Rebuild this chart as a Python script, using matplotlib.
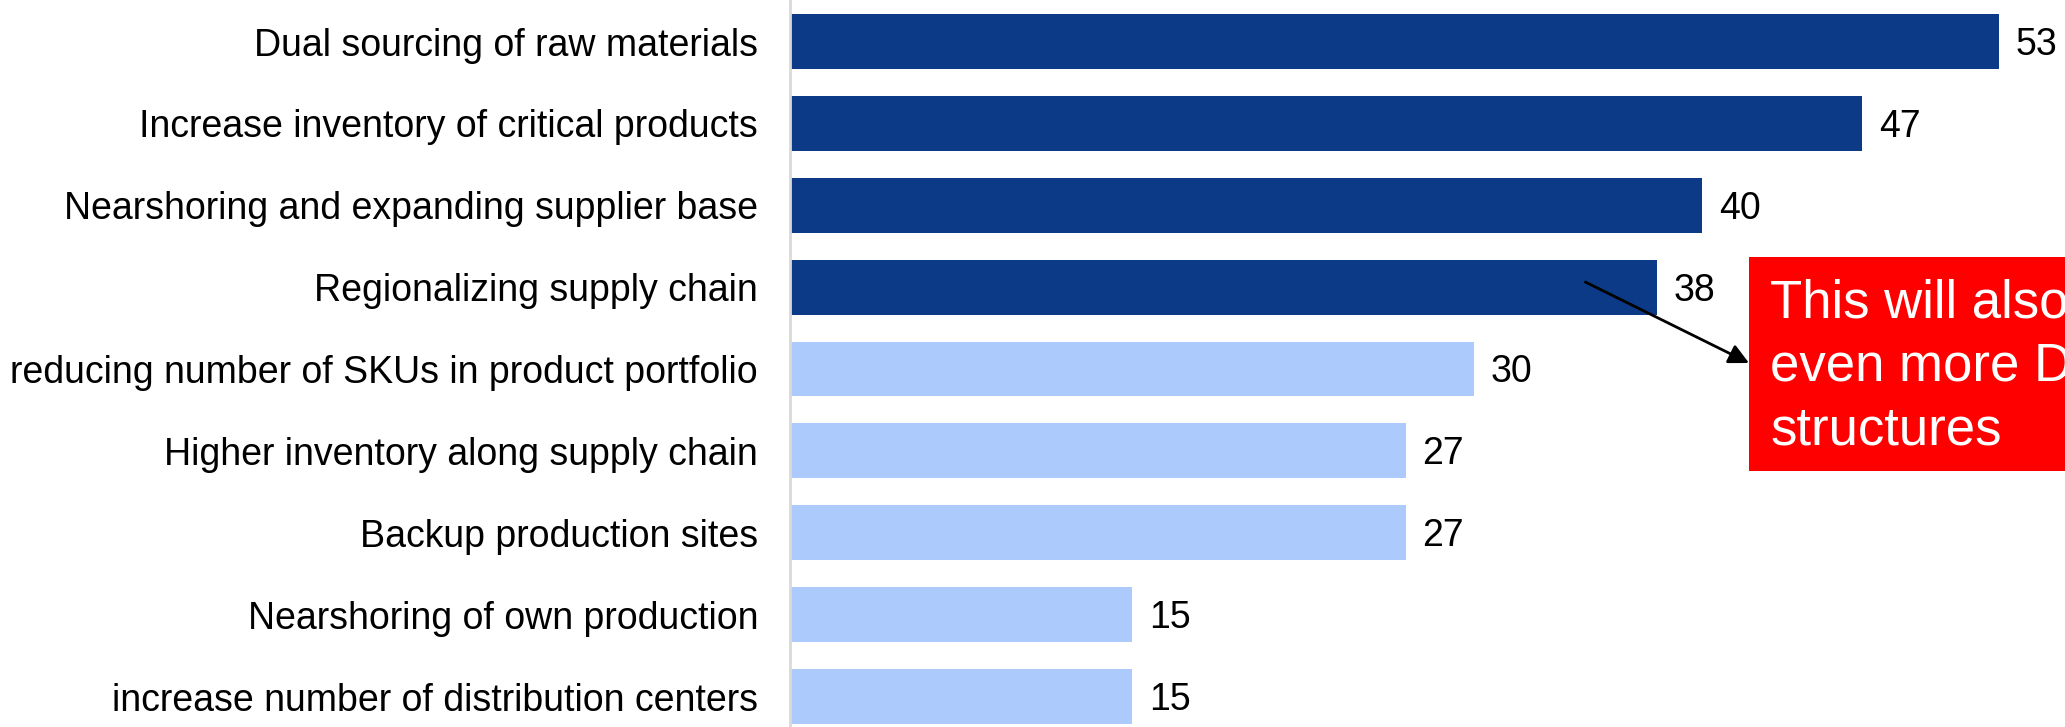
import matplotlib
matplotlib.use("Agg")
import matplotlib.pyplot as plt
from matplotlib.patches import Rectangle

plt.rcParams['font.family'] = ['Liberation Sans', 'DejaVu Sans']

categories = [
    "Dual sourcing of raw materials",
    "Increase inventory of critical products",
    "Nearshoring and expanding supplier base",
    "Regionalizing supply chain",
    "reducing number of SKUs in product portfolio",
    "Higher inventory along supply chain",
    "Backup production sites",
    "Nearshoring of own production",
    "increase number of distribution centers",
]
values = [53, 47, 40, 38, 30, 27, 27, 15, 15]
highlighted = [True, True, True, True, False, False, False, False, False]

dark_blue = "#0c3a87"
light_blue = "#accbfc"
colors = [dark_blue if h else light_blue for h in highlighted]

W, H = 2065, 727
fig = plt.figure(figsize=(W / 100, H / 100), dpi=100)
ax = fig.add_axes([790 / W, 0, 1 - 790 / W, 1])

ypos = list(range(len(categories)))
ax.barh(ypos, values, height=0.67, color=colors, zorder=2)

ax.set_xlim(0, 55.9)
ax.set_ylim(8.372, -0.507)
ax.set_yticks(ypos)
ax.set_yticklabels(categories, fontsize=27)
ax.tick_params(axis='y', length=0, pad=23)
ax.set_xticks([])

for side in ("top", "right", "bottom"):
    ax.spines[side].set_visible(False)
ax.spines["left"].set_color("#d9d9d9")
ax.spines["left"].set_linewidth(2)

for y, v in zip(ypos, values):
    ax.annotate(f"{v}", xy=(v, y), xytext=(12, -9.7), textcoords="offset points",
                va="baseline", ha="left", fontsize=27, color="black")

# Callout box on the right edge
box_left, box_bottom, box_top = 1749 / W, 1 - 471 / H, 1 - 257 / H
fig.patches.append(Rectangle((box_left, box_bottom), 0.3, box_top - box_bottom,
                             transform=fig.transFigure, facecolor="#ff0000",
                             edgecolor="none", zorder=5))
fig.text(1770 / W, 1 - 278 / H, "This will also lead to\neven more Decentralized\nstructures",
         color="white", fontsize=38, va="top", ha="left", linespacing=1.35, zorder=6)

ax.annotate("", xy=(box_left, 1 - 363 / H), xycoords="figure fraction",
            xytext=(34.87, 2.937), textcoords="data",
            arrowprops=dict(arrowstyle="-|>", color="black", lw=2,
                            mutation_scale=30, shrinkA=0, shrinkB=0),
            zorder=7, annotation_clip=False)

fig.savefig("out.png", dpi=100)
